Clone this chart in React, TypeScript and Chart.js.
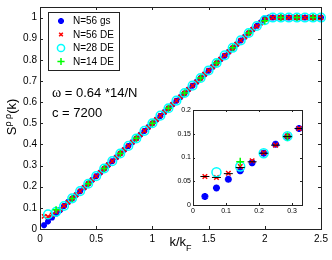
import React, { useEffect, useRef } from 'react';
import { Chart, registerables } from 'chart.js';
Chart.register(...registerables);

// ---- data ----
const k56 = [0.036, 0.071, 0.107, 0.143, 0.179, 0.214, 0.25, 0.286, 0.321, 0.357,
  0.393, 0.429, 0.464, 0.5, 0.536, 0.571, 0.607, 0.643, 0.679, 0.714,
  0.75, 0.786, 0.821, 0.857, 0.893, 0.929, 0.964, 1.0, 1.036, 1.071,
  1.107, 1.143, 1.179, 1.214, 1.25, 1.286, 1.321, 1.357, 1.393, 1.429,
  1.464, 1.5, 1.536, 1.571, 1.607, 1.643, 1.679, 1.714, 1.75, 1.786,
  1.821, 1.857, 1.893, 1.929, 1.964, 2.0, 2.036, 2.071, 2.107, 2.143,
  2.179, 2.214, 2.25, 2.286, 2.321, 2.357, 2.393, 2.429, 2.464, 2.5];
const gs56 = [0.018, 0.036, 0.054, 0.072, 0.089, 0.109, 0.128, 0.144, 0.161, 0.178,
  0.196, 0.214, 0.232, 0.25, 0.267, 0.285, 0.303, 0.321, 0.339, 0.357,
  0.375, 0.392, 0.41, 0.428, 0.446, 0.464, 0.482, 0.5, 0.517, 0.535,
  0.553, 0.571, 0.589, 0.607, 0.624, 0.642, 0.66, 0.678, 0.696, 0.714,
  0.731, 0.749, 0.767, 0.785, 0.803, 0.82, 0.838, 0.856, 0.874, 0.891,
  0.909, 0.927, 0.944, 0.961, 0.977, 0.996, 1, 1, 1, 1,
  1, 1, 1, 1, 1, 1, 1, 1, 1, 1];
const de56 = [0.06, 0.058, 0.067, 0.081, 0.093, 0.11, 0.126, 0.145, 0.161, 0.179,
  0.197, 0.215, 0.232, 0.25, 0.268, 0.286, 0.304, 0.321, 0.339, 0.357,
  0.375, 0.393, 0.411, 0.428, 0.446, 0.464, 0.482, 0.5, 0.518, 0.536,
  0.553, 0.571, 0.589, 0.607, 0.625, 0.643, 0.66, 0.678, 0.696, 0.714,
  0.732, 0.75, 0.767, 0.785, 0.803, 0.821, 0.839, 0.856, 0.874, 0.892,
  0.909, 0.927, 0.944, 0.96, 0.974, 0.99, 1, 1, 1, 1,
  1, 1, 1, 1, 1, 1, 1, 1, 1, 1];
const k28 = [0.071, 0.143, 0.214, 0.286, 0.357, 0.429, 0.5, 0.571, 0.643, 0.714,
  0.786, 0.857, 0.929, 1.0, 1.071, 1.143, 1.214, 1.286, 1.357, 1.429,
  1.5, 1.571, 1.643, 1.714, 1.786, 1.857, 1.929, 2.0, 2.071, 2.143,
  2.214, 2.286, 2.357, 2.429, 2.5];
const de28 = [0.069, 0.081, 0.109, 0.145, 0.179, 0.214, 0.25, 0.286, 0.321, 0.357,
  0.393, 0.428, 0.464, 0.5, 0.536, 0.571, 0.607, 0.643, 0.678, 0.714,
  0.75, 0.785, 0.821, 0.857, 0.892, 0.927, 0.96, 0.988, 1, 1,
  1, 1, 1, 1, 1];
const k14 = [0.143, 0.286, 0.429, 0.571, 0.714, 0.857, 1.0, 1.143, 1.286, 1.429,
  1.571, 1.714, 1.857, 2.0, 2.143, 2.286, 2.429];
const de14 = [0.091, 0.144, 0.214, 0.286, 0.357, 0.429, 0.5, 0.571, 0.643, 0.714,
  0.785, 0.857, 0.927, 0.985, 1, 1, 1];
const kRef = [0.036, 0.071, 0.107, 0.143, 0.179, 0.214, 0.25, 0.286, 0.321];
const refVals = [0.06, 0.058, 0.066, 0.079, 0.091, 0.109, 0.126, 0.144, 0.161];

const mainXTicks = [0, 0.5, 1, 1.5, 2, 2.5];
const mainYTicks = [0, 0.1, 0.2, 0.3, 0.4, 0.5, 0.6, 0.7, 0.8, 0.9, 1];
const insetXTicks = [0, 0.1, 0.2, 0.3];
const insetYTicks = [0, 0.05, 0.1, 0.15, 0.2];
const legendLabels = ['N=56 gs', 'N=56 DE', 'N=28 DE', 'N=14 DE'];
const omegaText = ' = 0.64 *14/N';
const cText = 'c = 7200';

const FONT = "'Liberation Sans', Arial, Helvetica, sans-serif";
const BLUE = '#0000ff', RED = '#ff0000', CYAN = '#00ffff', GREEN = '#00ff00';

const pts = (xs: number[], ys: number[]) => xs.map((x, i) => ({ x, y: ys[i] }));

function drawMarker(ctx: CanvasRenderingContext2D, style: string, x: number, y: number, r: number, color: string, lw: number) {
  ctx.save();
  ctx.strokeStyle = color;
  ctx.fillStyle = color;
  ctx.lineWidth = lw;
  ctx.beginPath();
  const d = r * Math.SQRT1_2;
  if (style === 'circle') {
    ctx.arc(x, y, r, 0, Math.PI * 2);
  } else {
    if (style === 'cross' || style === 'star') {
      ctx.moveTo(x - r, y); ctx.lineTo(x + r, y);
      ctx.moveTo(x, y - r); ctx.lineTo(x, y + r);
    }
    if (style === 'crossRot' || style === 'star') {
      ctx.moveTo(x - d, y - d); ctx.lineTo(x + d, y + d);
      ctx.moveTo(x - d, y + d); ctx.lineTo(x + d, y - d);
    }
  }
  ctx.stroke();
  ctx.restore();
}

function drawFrame(chart: any, tickLen: number, xTicks: number[], yTicks: number[]) {
  const { ctx, chartArea } = chart;
  const { left, right, top, bottom } = chartArea;
  const xs = chart.scales.x, ys = chart.scales.y;
  ctx.save();
  ctx.strokeStyle = '#222';
  ctx.lineWidth = 1;
  ctx.strokeRect(Math.round(left) + 0.5, Math.round(top) + 0.5, Math.round(right - left), Math.round(bottom - top));
  ctx.beginPath();
  xTicks.forEach((v) => {
    const px = Math.round(xs.getPixelForValue(v)) + 0.5;
    ctx.moveTo(px, bottom); ctx.lineTo(px, bottom - tickLen);
    ctx.moveTo(px, top); ctx.lineTo(px, top + tickLen);
  });
  yTicks.forEach((v) => {
    const py = Math.round(ys.getPixelForValue(v)) + 0.5;
    ctx.moveTo(left, py); ctx.lineTo(left + tickLen, py);
    ctx.moveTo(right, py); ctx.lineTo(right - tickLen, py);
  });
  ctx.stroke();
  ctx.restore();
}

const fmt = (v: number) => String(Math.round(v * 100) / 100);

function MainChart() {
  const ref = useRef<HTMLCanvasElement>(null);
  useEffect(() => {
    const mainPlugin = {
      id: 'mainDecor',
      afterDraw(chart: any) {
        const ctx = chart.ctx as CanvasRenderingContext2D;
        drawFrame(chart, 3, mainXTicks, mainYTicks);
        // legend
        ctx.save();
        ctx.fillStyle = '#fff';
        ctx.fillRect(48.5, 12.5, 71, 58);
        ctx.strokeStyle = '#222';
        ctx.lineWidth = 1;
        ctx.strokeRect(48.5, 12.5, 71, 58);
        const styles = [
          ['star', BLUE, 3, 2],
          ['crossRot', RED, 2.6, 1.5],
          ['circle', CYAN, 3.6, 1.5],
          ['cross', GREEN, 3.6, 1.5],
        ];
        const rows = [21, 34.5, 48, 61.5];
        ctx.font = `10px ${FONT}`;
        ctx.textBaseline = 'middle';
        ctx.textAlign = 'left';
        legendLabels.forEach((lab, i) => {
          const s = styles[i] as any;
          drawMarker(ctx, s[0], 61, rows[i], s[2], s[1], s[3]);
          ctx.fillStyle = '#000';
          ctx.fillText(lab, 73, rows[i] + 0.5);
        });
        // annotations
        ctx.textBaseline = 'alphabetic';
        ctx.fillStyle = '#000';
        ctx.font = `14px 'Liberation Serif', serif`;
        ctx.fillText('ω', 52, 97);
        const ow = ctx.measureText('ω').width;
        ctx.font = `13px ${FONT}`;
        ctx.fillText(omegaText, 52 + ow, 97);
        ctx.fillText(cText, 52, 117);
        // x title k/k_F
        ctx.font = `13px ${FONT}`;
        const w1 = ctx.measureText('k/k').width;
        ctx.font = `9px ${FONT}`;
        const w2 = ctx.measureText('F').width;
        const x0 = 180.5 - (w1 + w2) / 2;
        ctx.font = `13px ${FONT}`;
        ctx.fillText('k/k', x0, 246);
        ctx.font = `9px ${FONT}`;
        ctx.fillText('F', x0 + w1, 251);
        // y title S^{ρ ρ}(k)
        ctx.save();
        ctx.translate(16, 117);
        ctx.rotate(-Math.PI / 2);
        ctx.font = `13px ${FONT}`;
        const sw = ctx.measureText('S').width;
        const kw = ctx.measureText('(k)').width;
        ctx.font = `9px ${FONT}`;
        const rw = ctx.measureText('ρ ρ').width;
        const total = sw + rw + kw;
        let cx = -total / 2;
        ctx.font = `13px ${FONT}`;
        ctx.fillText('S', cx, 0);
        cx += sw;
        ctx.font = `9px ${FONT}`;
        ctx.fillText('ρ ρ', cx, -5.5);
        cx += rw;
        ctx.font = `13px ${FONT}`;
        ctx.fillText('(k)', cx, 0);
        ctx.restore();
        ctx.restore();
      },
    };
    const chart = new Chart(ref.current!, {
      type: 'scatter',
      data: {
        datasets: [
          { label: legendLabels[0], data: pts(k56, gs56), pointStyle: 'star', radius: 3, borderWidth: 2, borderColor: BLUE, backgroundColor: BLUE, order: 4, clip: false } as any,
          { label: legendLabels[1], data: pts(k56, de56), pointStyle: 'crossRot', radius: 3, borderWidth: 1.5, borderColor: RED, backgroundColor: RED, order: 3, clip: false },
          { label: legendLabels[2], data: pts(k28, de28), pointStyle: 'circle', radius: 4.3, borderWidth: 1.5, borderColor: CYAN, backgroundColor: 'rgba(0,0,0,0)', order: 2, clip: false },
          { label: legendLabels[3], data: pts(k14, de14), pointStyle: 'cross', radius: 3.5, borderWidth: 1.5, borderColor: GREEN, backgroundColor: GREEN, order: 1, clip: false },
        ],
      },
      options: {
        responsive: false,
        animation: false,
        events: [],
        layout: { padding: { top: 7, right: 11, left: 0, bottom: 0 } },
        plugins: { legend: { display: false }, tooltip: { enabled: false } },
        scales: {
          x: {
            type: 'linear', min: 0, max: 2.5,
            afterBuildTicks: (s: any) => { s.ticks = mainXTicks.map((v) => ({ value: v })); },
            afterFit: (s: any) => { s.height = 31; s.paddingLeft = 0; s.paddingRight = 0; },
            grid: { display: false, drawTicks: false },
            border: { display: false },
            ticks: { font: { family: FONT, size: 10 }, color: '#000', padding: 4, maxRotation: 0, autoSkip: false, callback: (v: any) => fmt(Number(v)) },
          },
          y: {
            type: 'linear', min: 0, max: 1.05,
            afterBuildTicks: (s: any) => { s.ticks = mainYTicks.map((v) => ({ value: v })); },
            afterFit: (s: any) => { s.width = 40; s.paddingTop = 0; s.paddingBottom = 0; },
            grid: { display: false, drawTicks: false },
            border: { display: false },
            ticks: { font: { family: FONT, size: 10 }, color: '#000', padding: 3, autoSkip: false, callback: (v: any) => fmt(Number(v)) },
          },
        },
      } as any,
      plugins: [mainPlugin],
    });
    return () => chart.destroy();
  }, []);
  return <canvas ref={ref} width={332} height={260} style={{ position: 'absolute', left: 0, top: 0, width: 332, height: 260 }} />;
}

function InsetChart() {
  const ref = useRef<HTMLCanvasElement>(null);
  useEffect(() => {
    const insetPlugin = {
      id: 'insetDecor',
      beforeDatasetsDraw(chart: any) {
        const { ctx, chartArea } = chart;
        ctx.save();
        ctx.fillStyle = '#fff';
        ctx.fillRect(chartArea.left, chartArea.top, chartArea.right - chartArea.left, chartArea.bottom - chartArea.top);
        ctx.restore();
      },
      afterDraw(chart: any) {
        drawFrame(chart, 2, insetXTicks, insetYTicks);
      },
    };
    const chart = new Chart(ref.current!, {
      type: 'scatter',
      data: {
        datasets: [
          { data: pts(k56, gs56), pointStyle: 'star', radius: 3.5, borderWidth: 2.2, borderColor: BLUE, backgroundColor: BLUE, order: 5 },
          { data: pts(k56, de56), pointStyle: 'crossRot', radius: 3.2, borderWidth: 1.5, borderColor: RED, backgroundColor: RED, order: 4 },
          { data: pts(k28, de28), pointStyle: 'circle', radius: 4.5, borderWidth: 1.5, borderColor: CYAN, backgroundColor: 'rgba(0,0,0,0)', order: 3 },
          { data: pts(k14, de14), pointStyle: 'cross', radius: 4, borderWidth: 1.5, borderColor: GREEN, backgroundColor: GREEN, order: 2 },
          { data: pts(kRef, refVals), pointStyle: 'line', radius: 4.5, borderWidth: 1, borderColor: '#000', backgroundColor: '#000', order: 1 },
        ],
      },
      options: {
        responsive: false,
        animation: false,
        events: [],
        layout: { padding: { top: 10, right: 8, left: 0, bottom: 0 } },
        plugins: { legend: { display: false }, tooltip: { enabled: false } },
        scales: {
          x: {
            type: 'linear', min: 0, max: 0.33,
            afterBuildTicks: (s: any) => { s.ticks = insetXTicks.map((v) => ({ value: v })); },
            afterFit: (s: any) => { s.height = 15; s.paddingLeft = 0; s.paddingRight = 0; },
            grid: { display: false, drawTicks: false },
            border: { display: false },
            ticks: { font: { family: FONT, size: 7 }, color: '#000', padding: 2, maxRotation: 0, autoSkip: false, callback: (v: any) => fmt(Number(v)) },
          },
          y: {
            type: 'linear', min: 0, max: 0.2,
            afterBuildTicks: (s: any) => { s.ticks = insetYTicks.map((v) => ({ value: v })); },
            afterFit: (s: any) => { s.width = 28; s.paddingTop = 0; s.paddingBottom = 0; },
            grid: { display: false, drawTicks: false },
            border: { display: false },
            ticks: { font: { family: FONT, size: 7 }, color: '#000', padding: 2, autoSkip: false, callback: (v: any) => fmt(Number(v)) },
          },
        },
      } as any,
      plugins: [insetPlugin],
    });
    return () => chart.destroy();
  }, []);
  return <canvas ref={ref} width={145} height={120} style={{ position: 'absolute', left: 165, top: 100, width: 145, height: 120 }} />;
}

export default function App() {
  return (
    <div style={{ position: 'absolute', left: 0, top: 0, width: 332, height: 260, background: '#fff' }}>
      <MainChart />
      <InsetChart />
    </div>
  );
}
